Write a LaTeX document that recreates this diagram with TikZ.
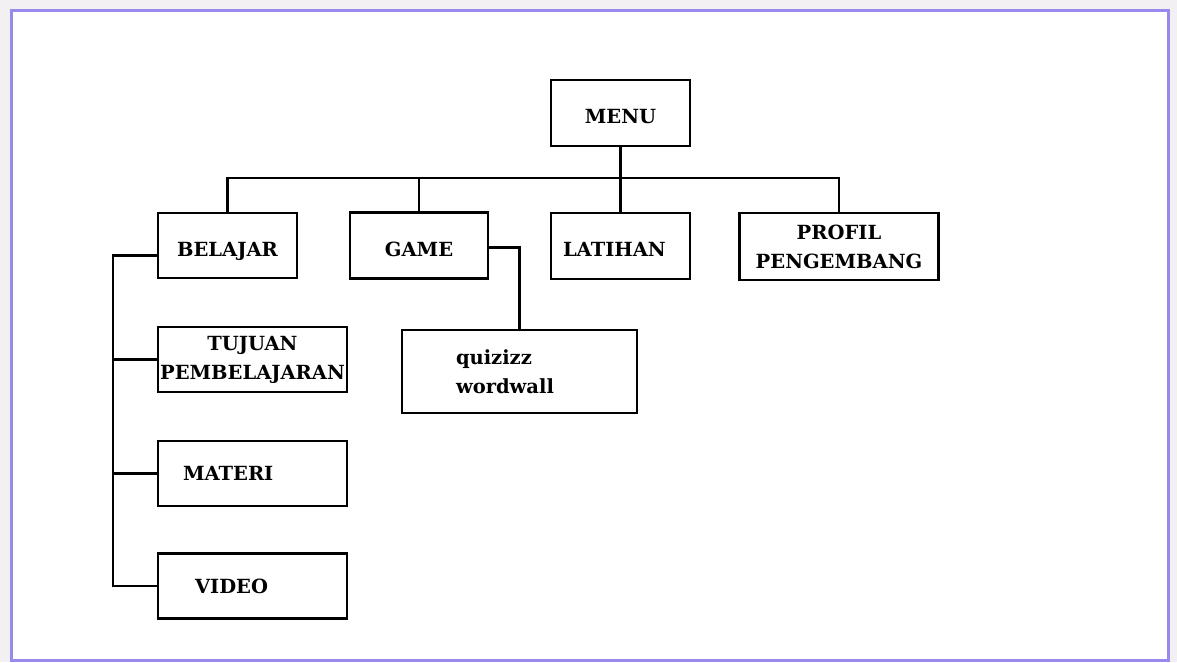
\documentclass[tikz,border=0pt]{standalone}
\usepackage{fontspec}
\setmainfont{DejaVu Serif}
\usepackage{tikz}
\definecolor{framepurple}{RGB}{152,138,236}
\definecolor{outside}{RGB}{242,240,242}

\begin{document}
\begin{tikzpicture}[x=1pt,y=-1pt,
    box/.style={draw,line width=2.6pt,fill=white,inner sep=0pt,minimum height=65pt,
        align=center,font=\fontsize{19.5}{29}\selectfont\bfseries},
    leftbox/.style={box,align=left,inner ysep=0pt},
    lowtext/.style={text height=21pt,text depth=0pt},
    link/.style={line width=2.6pt}]
    \useasboundingbox (0,0) rectangle (1177,662);
    \fill[outside] (0,0) rectangle (1177,662);
    \draw[framepurple,line width=3pt,fill=white] (11,10) rectangle (1168,660);

    \coordinate (bus) at (619,178);
    \coordinate (lb) at (113,0);

    \node[box,lowtext,minimum width=139pt,minimum height=66pt] (menu) at (620.5,113) {MENU};
    \node[box,lowtext,minimum width=139pt] (belajar) at (227.5,245.5) {BELAJAR};
    \node[box,lowtext,minimum width=138pt,minimum height=66pt] (game) at (419,245.5) {GAME};
    \node[leftbox,lowtext,text width=115pt,inner xsep=12pt,minimum height=66pt] (latihan) at (620.5,246) {LATIHAN};
    \node[box,minimum width=199pt,minimum height=67pt] (profil) at (839,246.5) {PROFIL\\PENGEMBANG};
    \node[leftbox,text width=127pt,inner xsep=54pt,minimum height=83pt] (quiz) at (519.5,371.5) {quizizz\\wordwall};
    \node[box,minimum width=189pt] (tujuan) at (252.5,359.5) {TUJUAN\\PEMBELAJARAN};
    \node[leftbox,text width=139pt,inner xsep=25pt] (materi) at (252.5,473.5) {MATERI};
    \node[leftbox,text width=115pt,inner xsep=37pt] (video) at (252.5,586) {VIDEO};

    \draw[link] (menu.south) -- (latihan.north);
    \draw[link] (belajar.north) |- (bus) -| (profil.north);
    \draw[link] (game.north) -- (game.north |- bus);
    \draw[link] ([yshift=-2pt]game.east) -| (quiz.north);

    \draw[link] ([yshift=-10pt]belajar.west) -| (video.west -| lb) -- (video.west);
    \draw[link] (tujuan.west) -- (tujuan.west -| lb);
    \draw[link] (materi.west) -- (materi.west -| lb);
\end{tikzpicture}
\end{document}
